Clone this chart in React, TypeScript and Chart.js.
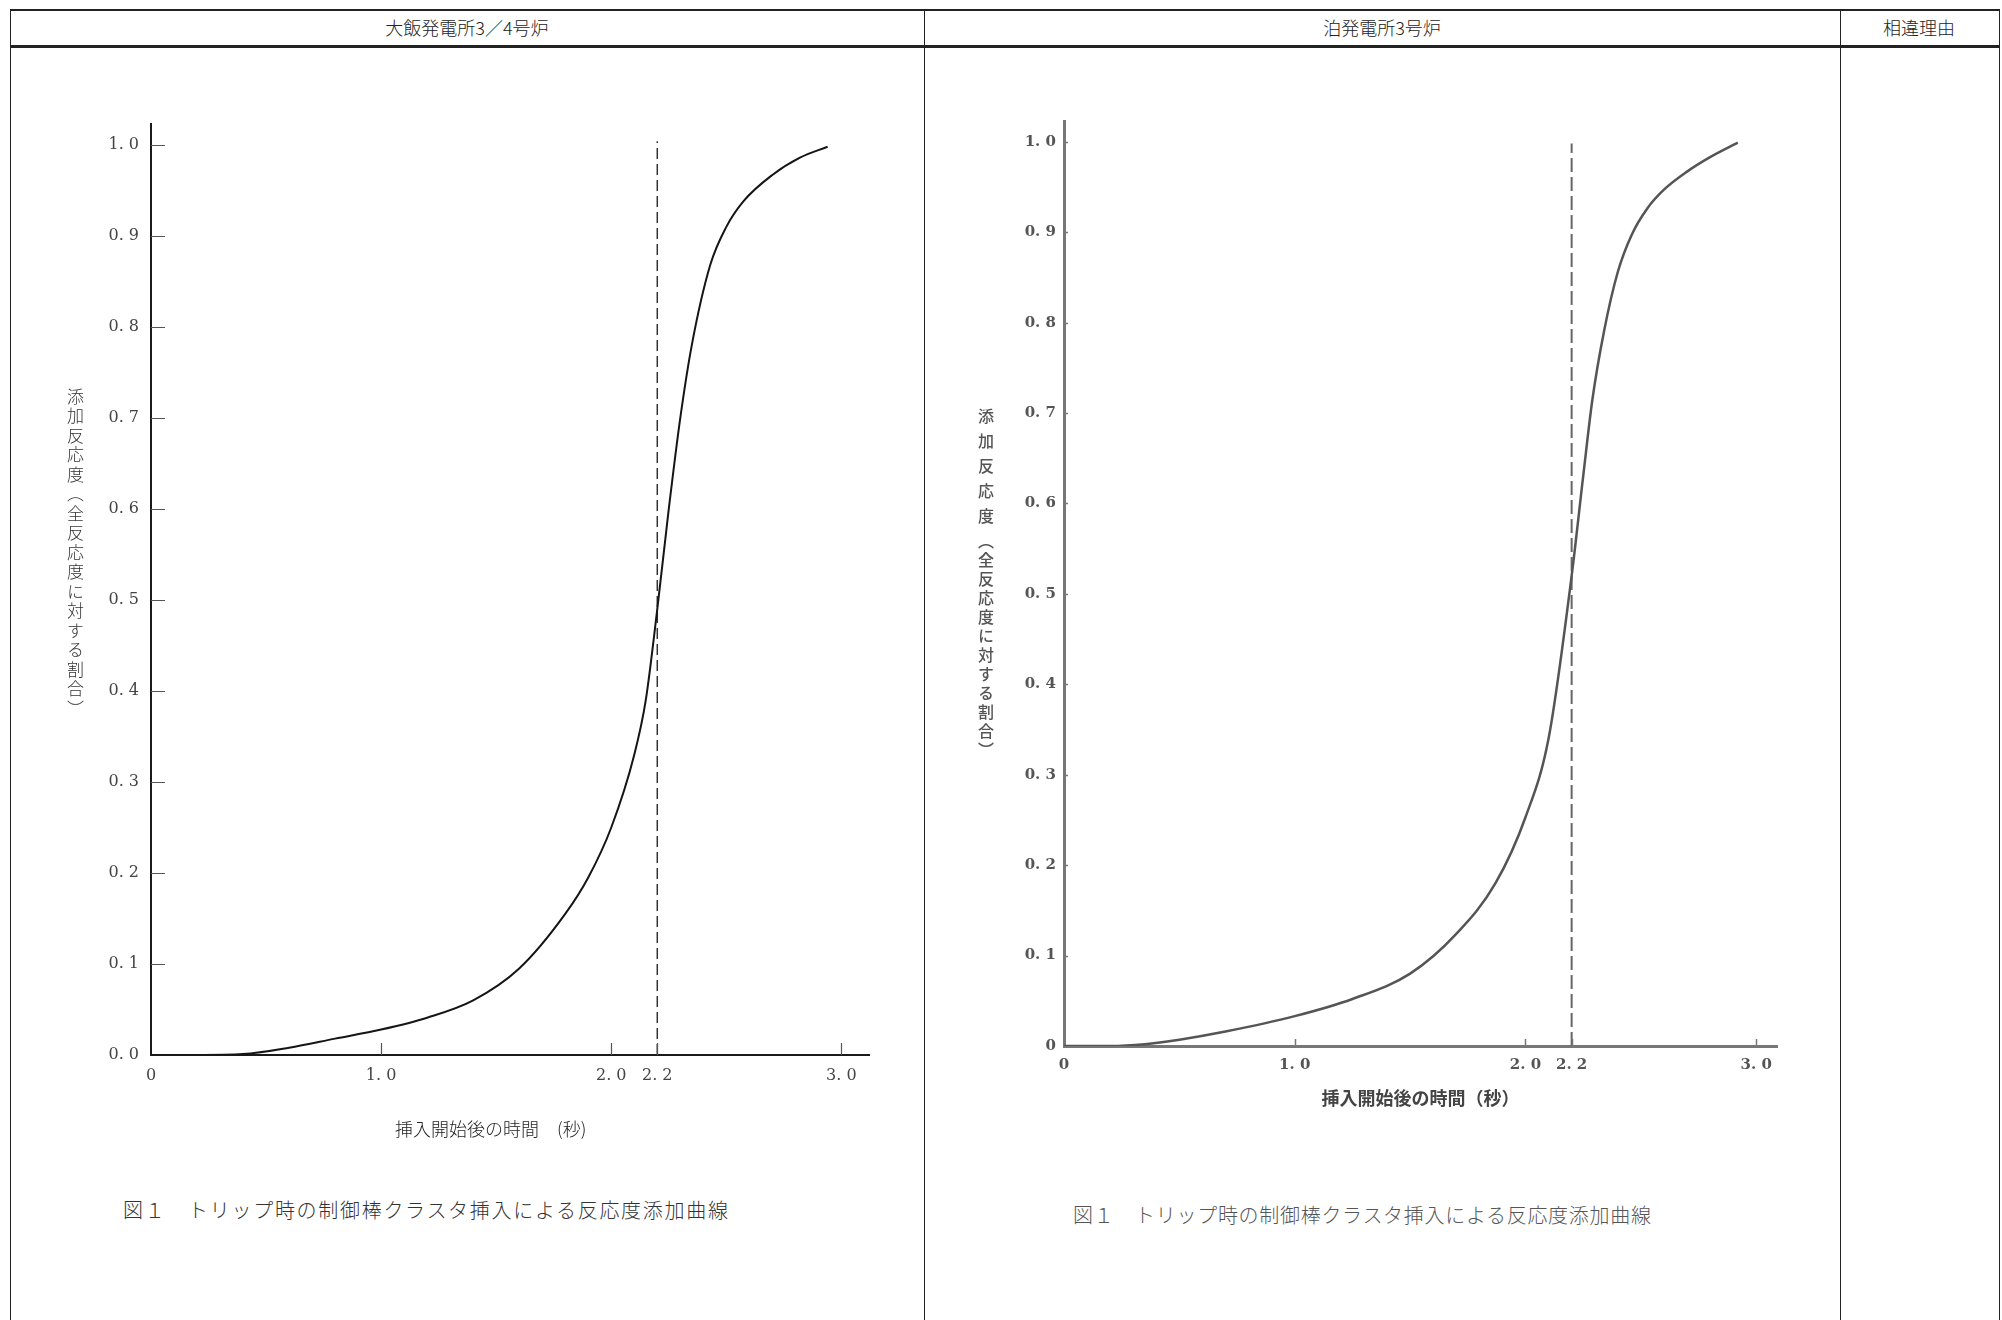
import React, { useEffect, useRef } from "react";
import { Chart, registerables } from "chart.js";

Chart.register(...registerables);

// ---------- data ----------
const xTickValues = [0, 1, 2, 2.2, 3];
const xTickLabels = ["0", "1. 0", "2. 0", "2. 2", "3. 0"];
const yTickValues = [0, 0.1, 0.2, 0.3, 0.4, 0.5, 0.6, 0.7, 0.8, 0.9, 1.0];
const yTickLabelsOhi = ["0. 0", "0. 1", "0. 2", "0. 3", "0. 4", "0. 5", "0. 6", "0. 7", "0. 8", "0. 9", "1. 0"];
const yTickLabelsTomari = ["0", "0. 1", "0. 2", "0. 3", "0. 4", "0. 5", "0. 6", "0. 7", "0. 8", "0. 9", "1. 0"];

// 大飯発電所3／4号炉 curve
const ohiTime = [0, 0.2, 0.4, 0.6, 0.8, 1.0, 1.2, 1.4, 1.6, 1.8, 1.9, 2.0, 2.1, 2.15, 2.2, 2.25, 2.3, 2.35, 2.43, 2.5, 2.574, 2.7, 2.82, 2.94];
const ohiReactivity = [0, 0, 0.001, 0.008, 0.018, 0.028, 0.041, 0.06, 0.095, 0.155, 0.195, 0.25, 0.33, 0.39, 0.49, 0.6, 0.7, 0.78, 0.868, 0.91, 0.938, 0.967, 0.986, 0.998];

// 泊発電所3号炉 curve
const tomariTime = [0, 0.2, 0.35, 0.5, 0.7, 1.0, 1.25, 1.5, 1.7, 1.87, 2.0, 2.1, 2.2, 2.25, 2.29, 2.34, 2.4, 2.46, 2.527, 2.6, 2.7, 2.8, 2.92];
const tomariReactivity = [0, 0, 0.002, 0.007, 0.016, 0.033, 0.052, 0.08, 0.124, 0.18, 0.253, 0.34, 0.52, 0.63, 0.715, 0.79, 0.856, 0.897, 0.926, 0.947, 0.967, 0.983, 0.999];

const markerTime = 2.2;
const ohiMarkerTop = 1.004;
const tomariMarkerTop = 0.998;

// ---------- chart builder ----------
type PanelOpts = {
  times: number[];
  values: number[];
  markerTop: number;
  yLabels: string[];
  xMax: number;
  yMax: number;
  yWidth: number;
  xHeight: number;
  padTop: number;
  padRight: number;
  lineColor: string;
  lineWidth: number;
  axisColor: string;
  axisWidth: number;
  dashColor: string;
  dashWidth: number;
  dash: number[];
  tickColor: string;
  tickWidth: number;
  tickX: number;
  tickY: number;
  tickFont: any;
  labelColor: string;
  xTitle: string | null;
  xTitleFont: any;
  xTitleColor: string;
  xTitlePadBottom: number;
  xLabelPad: number;
  yLabelPad: number;
};

// draws short tick marks pointing inward from the axes
const inwardTicks = {
  id: "inwardTicks",
  afterDatasetsDraw(chart: any, _args: any, opts: any) {
    const { ctx } = chart;
    const xs = chart.scales.x;
    const ys = chart.scales.y;
    const area = chart.chartArea;
    ctx.save();
    ctx.strokeStyle = opts.color;
    ctx.lineWidth = opts.width;
    ctx.beginPath();
    xTickValues.forEach((v) => {
      if (v === 0) return;
      const px = Math.round(xs.getPixelForValue(v)) + 0.5;
      ctx.moveTo(px, area.bottom);
      ctx.lineTo(px, area.bottom - opts.lenX);
    });
    yTickValues.forEach((v) => {
      if (v === 0) return;
      const py = Math.round(ys.getPixelForValue(v)) + 0.5;
      ctx.moveTo(area.left, py);
      ctx.lineTo(area.left + opts.lenY, py);
    });
    ctx.stroke();
    ctx.restore();
  },
};

function buildConfig(p: PanelOpts): any {
  const curve = p.times.map((t, i) => ({ x: t, y: p.values[i] }));
  const marker = [
    { x: markerTime, y: 0 },
    { x: markerTime, y: p.markerTop },
  ];
  return {
    type: "line",
    data: {
      datasets: [
        {
          data: curve,
          borderColor: p.lineColor,
          borderWidth: p.lineWidth,
          pointRadius: 0,
          fill: false,
          cubicInterpolationMode: "monotone",
        },
        {
          data: marker,
          borderColor: p.dashColor,
          borderWidth: p.dashWidth,
          borderDash: p.dash,
          pointRadius: 0,
          fill: false,
        },
      ],
    },
    plugins: [inwardTicks],
    options: {
      animation: false,
      responsive: false,
      maintainAspectRatio: false,
      devicePixelRatio: 1,
      events: [],
      layout: { padding: { top: p.padTop, right: p.padRight, left: 0, bottom: 0 } },
      plugins: {
        legend: { display: false },
        tooltip: { enabled: false },
        title: { display: false },
        inwardTicks: { color: p.tickColor, width: p.tickWidth, lenX: p.tickX, lenY: p.tickY },
      },
      scales: {
        x: {
          type: "linear",
          min: 0,
          max: p.xMax,
          afterBuildTicks: (s: any) => {
            s.ticks = xTickValues.map((v) => ({ value: v }));
          },
          afterFit: (s: any) => {
            s.height = p.xHeight;
          },
          grid: { display: false, drawTicks: false, drawOnChartArea: false },
          border: { display: true, color: p.axisColor, width: p.axisWidth },
          ticks: {
            autoSkip: false,
            maxRotation: 0,
            minRotation: 0,
            padding: p.xLabelPad,
            font: p.tickFont,
            color: p.labelColor,
            callback: (_v: any, i: number) => xTickLabels[i],
          },
          title: {
            display: p.xTitle !== null,
            text: p.xTitle || "",
            font: p.xTitleFont,
            color: p.xTitleColor,
            padding: { top: 0, bottom: p.xTitlePadBottom },
          },
        },
        y: {
          type: "linear",
          min: 0,
          max: p.yMax,
          afterBuildTicks: (s: any) => {
            s.ticks = yTickValues.map((v) => ({ value: v }));
          },
          afterFit: (s: any) => {
            s.width = p.yWidth;
          },
          grid: { display: false, drawTicks: false, drawOnChartArea: false },
          border: { display: true, color: p.axisColor, width: p.axisWidth },
          ticks: {
            autoSkip: false,
            padding: p.yLabelPad,
            font: p.tickFont,
            color: p.labelColor,
            callback: (_v: any, i: number) => p.yLabels[i],
          },
        },
      },
    },
  };
}

function ChartCanvas(props: { left: number; top: number; width: number; height: number; opts: PanelOpts }) {
  const ref = useRef<HTMLCanvasElement | null>(null);
  useEffect(() => {
    if (!ref.current) return;
    const chart = new Chart(ref.current, buildConfig(props.opts));
    return () => chart.destroy();
  }, []);
  return (
    <canvas
      ref={ref}
      width={props.width}
      height={props.height}
      style={{
        position: "absolute",
        left: props.left,
        top: props.top,
        width: props.width,
        height: props.height,
      }}
    />
  );
}

const cjk = '"Noto Sans CJK JP", "Noto Sans CJK SC", sans-serif';

const ohiOpts: PanelOpts = {
  times: ohiTime,
  values: ohiReactivity,
  markerTop: ohiMarkerTop,
  yLabels: yTickLabelsOhi,
  xMax: 3.12,
  yMax: 1.023,
  yWidth: 91,
  xHeight: 125,
  padTop: 24,
  padRight: 31,
  lineColor: "#151515",
  lineWidth: 2,
  axisColor: "#1a1a1a",
  axisWidth: 2,
  dashColor: "#333",
  dashWidth: 1.5,
  dash: [11, 5],
  tickColor: "#555",
  tickWidth: 1.2,
  tickX: 12,
  tickY: 14,
  tickFont: { family: '"DejaVu Serif", serif', size: 16 },
  labelColor: "#444",
  xTitle: null,
  xTitleFont: { family: cjk, size: 18, weight: "300" },
  xTitleColor: "#222",
  xTitlePadBottom: 39,
  xLabelPad: 11,
  yLabelPad: 12,
};

const tomariOpts: PanelOpts = {
  times: tomariTime,
  values: tomariReactivity,
  markerTop: tomariMarkerTop,
  yLabels: yTickLabelsTomari,
  xMax: 3.09,
  yMax: 1.023,
  yWidth: 84,
  xHeight: 114,
  padTop: 21,
  padRight: 43,
  lineColor: "#555",
  lineWidth: 2.5,
  axisColor: "#777",
  axisWidth: 3,
  dashColor: "#666",
  dashWidth: 2,
  dash: [14, 5],
  tickColor: "#777",
  tickWidth: 1.5,
  tickX: 7,
  tickY: 4,
  tickFont: { family: '"DejaVu Serif", serif', size: 15, weight: "bold" },
  labelColor: "#555",
  xTitle: "挿入開始後の時間（秒）",
  xTitleFont: { family: cjk, size: 18, weight: "bold" },
  xTitleColor: "#444",
  xTitlePadBottom: 51,
  xLabelPad: 10,
  yLabelPad: 8,
};

export default function App() {
  const line = "#222";
  return (
    <div
      style={{
        position: "absolute",
        left: 0,
        top: 0,
        width: 2002,
        height: 1320,
        background: "#fff",
        overflow: "hidden",
        fontFamily: cjk,
      }}
    >
      {/* table frame */}
      <div style={{ position: "absolute", left: 10, top: 9, width: 1988, height: 1320, borderLeft: `1.5px solid ${line}`, borderRight: `1.5px solid ${line}`, borderTop: `2.5px solid ${line}` }} />
      <div style={{ position: "absolute", left: 10, top: 45, width: 1990, height: 0, borderTop: `3px solid ${line}` }} />
      <div style={{ position: "absolute", left: 924, top: 9, width: 0, height: 1320, borderLeft: `1.5px solid ${line}` }} />
      <div style={{ position: "absolute", left: 1840, top: 9, width: 0, height: 1320, borderLeft: `1.5px solid ${line}` }} />

      {/* header texts */}
      <div style={{ position: "absolute", left: 10, width: 914, top: 14, textAlign: "center", fontSize: 18, color: "#222", fontWeight: 300 }}>大飯発電所3／4号炉</div>
      <div style={{ position: "absolute", left: 924, width: 916, top: 14, textAlign: "center", fontSize: 18, color: "#222", fontWeight: 300 }}>泊発電所3号炉</div>
      <div style={{ position: "absolute", left: 1840, width: 158, top: 14, textAlign: "center", fontSize: 18, color: "#222", fontWeight: 300 }}>相違理由</div>

      {/* charts */}
      <ChartCanvas left={60} top={100} width={840} height={1080} opts={ohiOpts} />
      <ChartCanvas left={980} top={100} width={840} height={1060} opts={tomariOpts} />

      {/* x-axis title of the left chart */}
      <div style={{ position: "absolute", left: 395, top: 1118, fontSize: 18, color: "#222", fontWeight: 300, whiteSpace: "nowrap", lineHeight: 1.2 }}>
        挿入開始後の時間　(秒)
      </div>

      {/* vertical y-axis titles */}
      <div style={{ position: "absolute", left: 67, top: 388, writingMode: "vertical-rl", fontSize: 17, color: "#333", fontWeight: 300, lineHeight: 1, letterSpacing: 2.5 }}>
        添加反応度（全反応度に対する割合）
      </div>
      <div style={{ position: "absolute", left: 978, top: 408, writingMode: "vertical-rl", fontSize: 16, color: "#555", fontWeight: 500, lineHeight: 1 }}>
        <span style={{ letterSpacing: 9 }}>添加反応度</span>
        <span style={{ letterSpacing: 3 }}>（全反応度に対する割合）</span>
      </div>

      {/* captions */}
      <div style={{ position: "absolute", left: 123, top: 1195, fontSize: 20, color: "#333", fontWeight: 300, letterSpacing: 1.7, whiteSpace: "nowrap" }}>
        図１　トリップ時の制御棒クラスタ挿入による反応度添加曲線
      </div>
      <div style={{ position: "absolute", left: 1073, top: 1200, fontSize: 20, color: "#555", fontWeight: 300, letterSpacing: 0.7, whiteSpace: "nowrap" }}>
        図１　トリップ時の制御棒クラスタ挿入による反応度添加曲線
      </div>
    </div>
  );
}
